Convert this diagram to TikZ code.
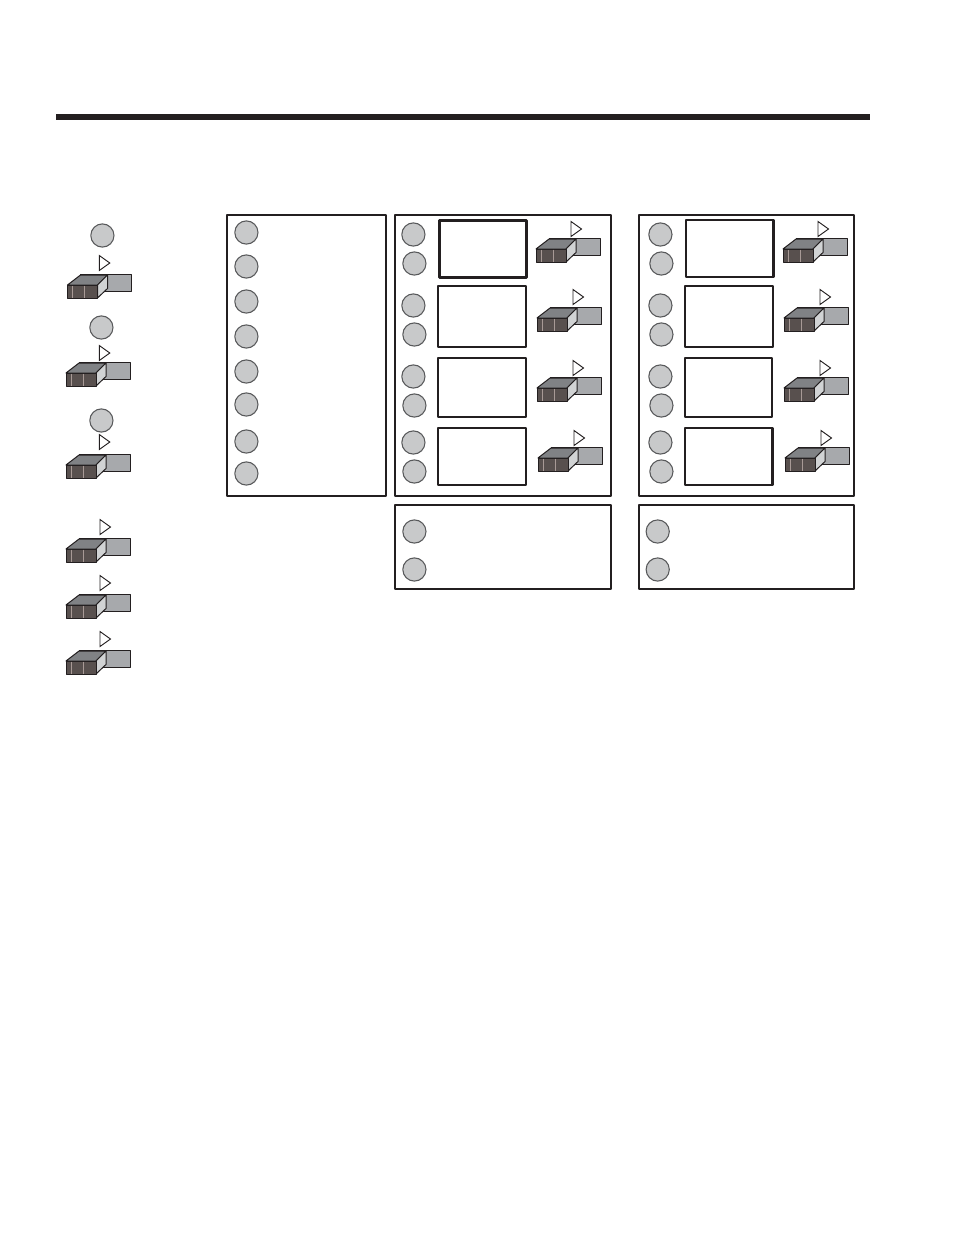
\documentclass[tikz,border=0pt]{standalone}
\definecolor{ink}{HTML}{231F20}
\definecolor{knob}{HTML}{C8C9CA}
\definecolor{knobedge}{HTML}{58595B}
\definecolor{back}{HTML}{A7A9AC}
\definecolor{topf}{HTML}{808285}
\definecolor{front}{HTML}{58504E}
\definecolor{sidef}{HTML}{D1D3D4}
\definecolor{seam}{HTML}{A89A96}
\tikzset{x=0.75pt,y=-0.75pt,
 panel/.style={draw=ink,line width=1.5pt,line join=round},
 screen/.style={draw=ink,line width=1.6pt,line join=round},
 screenb/.style={draw=ink,line width=2pt,line join=round},
 btn/.style={circle,draw=knobedge,line width=0.8pt,fill=knob,minimum size=17.4pt,inner sep=0pt},
 sw/.style={draw=ink,line width=0.75pt,line join=round},
 tri/.style={draw=ink,line width=0.7pt,fill=white,line join=miter}}
% #1 front-left x, #2 back top y, #3 triangle left x, #4 triangle centre y
\newcommand\swtch[4]{%
 \draw[tri] (#3,#4-7.5) -- (#3+10.5,#4) -- (#3,#4+7.5) -- cycle;
 \draw[sw,fill=back] (#1+13,#2+0.5) rectangle (#1+64,#2+17);
 \draw[sw,fill=topf] (#1,#2+11) -- (#1+13,#2+1) -- (#1+40,#2+1) -- (#1+30,#2+11) -- cycle;
 \draw[sw,fill=sidef] (#1+30,#2+11) -- (#1+40,#2+1) -- (#1+40,#2+14.5) -- (#1+30,#2+24) -- cycle;
 \draw[sw,fill=front] (#1+0.3,#2+11) rectangle (#1+30,#2+24);
 \draw[seam,line width=0.5pt] (#1+5,#2+11.5) -- (#1+5,#2+23.5) (#1+17,#2+11.5) -- (#1+17,#2+23.5);
}
\begin{document}
\begin{tikzpicture}
\useasboundingbox (0,0) rectangle (954,1235);
\fill[ink] (56,114) rectangle (870,120);
% panels
\draw[panel] (227,215) rectangle (386,496);
\draw[panel] (395,215) rectangle (610.7,496);
\draw[panel] (639,215) rectangle (854,496);
\draw[panel] (395,505) rectangle (610.7,589);
\draw[panel] (639,505) rectangle (854,589);
% screens
\draw[screenb] (439.5,220.5) rectangle (526.5,277.5);
\draw[screen] (438,286) rectangle (526,347);
\draw[screen] (438,358) rectangle (526,417);
\draw[screenb] (438,428) rectangle (526,485);
\draw[screenb] (686,220) rectangle (773.5,277);
\draw[screen] (685,286) rectangle (773,347);
\draw[screen] (685,358) rectangle (772,417);
\draw[screenb] (685,428) rectangle (772.7,485);
% buttons
\foreach \n/\x/\y in {a1/102.4/235.5,a2/101.4/327.5,a3/101.4/420.5,
 b1/246.4/232.5,b2/246.4/266.5,b3/246.4/301.5,b4/246.4/336.5,b5/246.4/371.5,b6/246.4/404.5,b7/246.4/441.5,b8/246.4/473.5,
 c1/413.4/234.5,c2/414.4/263.5,c3/413.4/305.5,c4/414.4/334.5,c5/413.4/376.5,c6/414.4/405.5,c7/413.4/442.5,c8/414.4/471.5,c9/414.4/531.5,c10/414.4/569.5,
 d1/660.4/234.5,d2/661.4/263.5,d3/660.4/305.5,d4/661.4/334.5,d5/660.4/376.5,d6/661.4/405.5,d7/660.4/442.5,d8/661.4/471.5,d9/657.7/531.5,d10/657.7/569.5}
 {\node[btn] (\n) at (\x,\y) {};}
% switches
\swtch{67.5}{274}{99.3}{263}
\swtch{66}{362}{99.3}{353}
\swtch{66}{454}{99.3}{442}
\swtch{66}{538}{100}{527}
\swtch{66}{594}{100}{583}
\swtch{66}{650}{100}{639}
\swtch{536}{238}{571}{229}
\swtch{537}{307}{573}{297}
\swtch{537}{377}{573}{368}
\swtch{538}{447}{574}{438}
\swtch{783}{238}{818}{229}
\swtch{784}{307}{820}{297}
\swtch{784}{377}{820}{368}
\swtch{785}{447}{821}{438}
\end{tikzpicture}
\end{document}
